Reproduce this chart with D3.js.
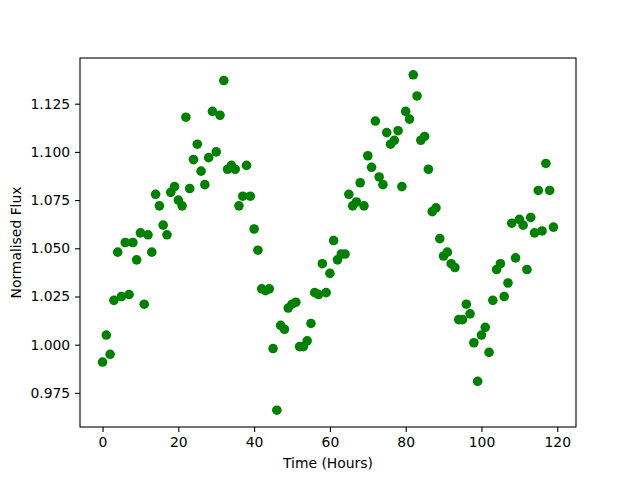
<!DOCTYPE html>
<html>
<head>
<meta charset="utf-8">
<script src="https://cdn.jsdelivr.net/npm/d3@7"></script>
<style>
  body { margin: 0; background: #fff; }
  svg text { font-family: "DejaVu Sans", sans-serif; }
</style>
</head>
<body>
<div id="chart"></div>
<script>
// observation times (hours)
var hours = [0, 1, 2, 3, 4, 5, 6, 7, 8, 9, 10, 11, 12, 13, 14, 15, 16, 17, 18, 19,
    20, 21, 22, 23, 24, 25, 26, 27, 28, 29, 30, 31, 32, 33, 34, 35, 36, 37, 38, 39,
    40, 41, 42, 43, 44, 45, 46, 47, 48, 49, 50, 51, 52, 53, 54, 55, 56, 57, 58, 59,
    60, 61, 62, 63, 64, 65, 66, 67, 68, 69, 70, 71, 72, 73, 74, 75, 76, 77, 78, 79,
    80, 81, 82, 83, 84, 85, 86, 87, 88, 89, 90, 91, 92, 93, 94, 95, 96, 97, 98, 99,
    100, 101, 102, 103, 104, 105, 106, 107, 108, 109, 110, 111, 112, 113, 114, 115, 116, 117, 118, 119];

// normalised flux
var flux = [0.991, 1.005, 0.995, 1.023, 1.048, 1.025, 1.053, 1.026, 1.053, 1.044,
    1.058, 1.021, 1.057, 1.048, 1.078, 1.072, 1.062, 1.057, 1.079, 1.082,
    1.075, 1.072, 1.118, 1.081, 1.096, 1.104, 1.090, 1.083, 1.097, 1.121,
    1.100, 1.119, 1.137, 1.091, 1.093, 1.091, 1.072, 1.077, 1.093, 1.077,
    1.060, 1.049, 1.029, 1.028, 1.029, 0.998, 0.966, 1.010, 1.008, 1.019,
    1.021, 1.022, 0.999, 0.999, 1.002, 1.011, 1.027, 1.026, 1.042, 1.027,
    1.037, 1.054, 1.044, 1.047, 1.047, 1.078, 1.072, 1.074, 1.084, 1.072,
    1.098, 1.092, 1.116, 1.087, 1.083, 1.110, 1.104, 1.106, 1.111, 1.082,
    1.121, 1.117, 1.140, 1.129, 1.106, 1.108, 1.091, 1.069, 1.071, 1.055,
    1.046, 1.048, 1.042, 1.040, 1.013, 1.013, 1.021, 1.016, 1.001, 0.981,
    1.005, 1.009, 0.996, 1.023, 1.039, 1.042, 1.025, 1.032, 1.063, 1.045,
    1.065, 1.062, 1.039, 1.066, 1.058, 1.080, 1.059, 1.094, 1.080, 1.061];

var xTicks = [0, 20, 40, 60, 80, 100, 120];
var yTicks = [0.975, 1.000, 1.025, 1.050, 1.075, 1.100, 1.125];

var width = 640;
var height = 480;
var margin = { top: 58, right: 64, bottom: 53, left: 80 };
var innerW = width - margin.left - margin.right;
var innerH = height - margin.top - margin.bottom;

var points = hours.map(function (h, i) { return { t: h, f: flux[i] }; });

// matplotlib-like 5% padding around the data
var xExt = d3.extent(hours), yExt = d3.extent(flux);
var xPad = (xExt[1] - xExt[0]) * 0.05, yPad = (yExt[1] - yExt[0]) * 0.05;

var x = d3.scaleLinear().domain([xExt[0] - xPad, xExt[1] + xPad]).range([0, innerW]);
var y = d3.scaleLinear().domain([yExt[0] - yPad, yExt[1] + yPad]).range([innerH, 0]);

var svg = d3.select('#chart').append('svg')
    .attr('width', width)
    .attr('height', height);

var g = svg.append('g')
    .attr('transform', 'translate(' + margin.left + ',' + margin.top + ')');

g.selectAll('circle.pt')
    .data(points)
    .enter()
    .append('circle')
    .attr('class', 'pt')
    .attr('cx', function (d) { return x(d.t); })
    .attr('cy', function (d) { return y(d.f); })
    .attr('r', 4.8)
    .attr('fill', '#008000');

var xAxis = g.append('g')
    .attr('transform', 'translate(0,' + innerH + ')')
    .call(d3.axisBottom(x).tickValues(xTicks).tickFormat(d3.format('d')).tickSize(4.9).tickPadding(4.9));

var yAxis = g.append('g')
    .call(d3.axisLeft(y).tickValues(yTicks).tickFormat(d3.format('.3f')).tickSize(4.9).tickPadding(4.9));

[xAxis, yAxis].forEach(function (ax) {
    ax.select('.domain').remove();
    ax.selectAll('line').attr('stroke', '#000').attr('stroke-width', 1.1);
    ax.selectAll('text').attr('font-size', 13.9).attr('fill', '#000')
        .style('font-family', '"DejaVu Sans", sans-serif');
});

// frame
g.append('rect')
    .attr('width', innerW)
    .attr('height', innerH)
    .attr('fill', 'none')
    .attr('stroke', '#000')
    .attr('stroke-width', 1.1);

svg.append('text')
    .attr('x', margin.left + innerW / 2)
    .attr('y', 468)
    .attr('text-anchor', 'middle')
    .attr('font-size', 13.9)
    .text('Time (Hours)');

svg.append('text')
    .attr('transform', 'translate(21,' + (margin.top + innerH / 2) + ') rotate(-90)')
    .attr('text-anchor', 'middle')
    .attr('font-size', 13.9)
    .text('Normalised Flux');
</script>
</body>
</html>
